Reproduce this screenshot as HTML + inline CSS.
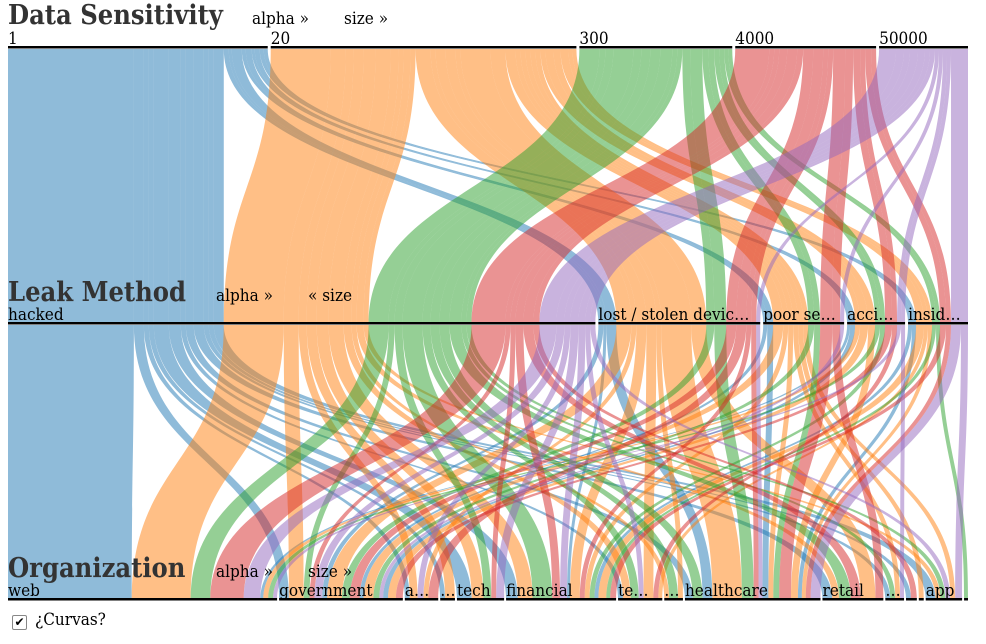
<!DOCTYPE html>
<html><head><meta charset="utf-8">
<style>
body{margin:0;background:#fff;width:986px;height:644px;overflow:hidden;font-family:"DejaVu Serif Condensed","DejaVu Serif","Liberation Serif",serif;}
svg text{font-family:"DejaVu Serif Condensed","DejaVu Serif","Liberation Serif",serif;fill:#000;}
.cb{position:absolute;left:12px;top:610px;font-size:17px;}
</style></head><body>
<svg id="chart" width="986" height="610" style="position:absolute;left:0;top:0"></svg>
<div class="cb"><span style="display:inline-block;width:13px;height:13px;border:1px solid #888;border-radius:2px;font-size:12px;line-height:13px;text-align:center;vertical-align:-1px;margin-right:8px">✔</span><span>¿Curvas?</span></div>
<script>
const sensCats=["1","20","300","4000","50000"];
const methodCats=["hacked","lost / stolen devic…","poor se…","acci…","insid…"];
const orgCats=["web","government","a…","…","tech","financial","te…","…","healthcare","retail","…","","","app",""];
// records: [sensitivity, method, organization, count]
const records=[
[0,0,0,126],[0,0,1,10],[0,0,2,5],[0,0,3,5],[0,0,4,15],[0,0,5,12],[0,0,6,5],[0,0,8,8],[0,0,9,10],[0,0,10,5],[0,0,11,5],[0,0,13,10],
[0,1,1,5],[0,1,5,3],[0,1,8,10],[0,2,1,4],[0,2,8,6],[0,3,0,3],[0,3,1,5],[0,4,5,4],[0,4,8,4],
[1,0,0,60],[1,0,1,15],[1,0,2,8],[1,0,3,10],[1,0,4,12],[1,0,5,15],[1,0,6,8],[1,0,7,5],[1,0,9,7],[1,0,13,5],
[1,1,1,15],[1,1,2,5],[1,1,5,10],[1,1,6,10],[1,1,7,5],[1,1,8,30],[1,1,9,15],[1,2,1,10],[1,2,5,5],[1,2,8,5],[1,2,10,5],[1,2,13,5],[1,2,12,5],
[1,3,0,5],[1,3,1,8],[1,3,8,7],[1,4,5,8],[1,4,6,4],[1,4,8,4],
[2,0,0,20],[2,0,1,6],[2,0,4,8],[2,0,5,20],[2,0,6,8],[2,0,7,9],[2,0,8,10],[2,0,9,12],[2,0,10,5],[2,0,13,5],
[2,1,1,8],[2,1,8,12],[2,2,1,6],[2,2,8,6],[2,3,0,5],[2,3,5,5],[2,4,5,4],[2,4,14,4],
[3,0,0,34],[3,0,1,5],[3,0,4,5],[3,0,5,8],[3,0,9,10],[3,0,11,6],[3,1,1,10],[3,1,2,10],[3,1,5,5],[3,1,8,5],[3,2,8,12],[3,2,9,8],
[3,3,1,7],[3,3,6,5],[3,4,5,6],[3,4,8,5],
[4,0,0,17],[4,0,1,8],[4,0,2,6],[4,0,4,8],[4,0,5,7],[4,0,6,5],[4,0,13,5],[4,1,8,4],[4,2,1,4],[4,3,0,4],[4,3,10,4],[4,4,8,10],[4,4,13,7]
];
const colors=["#1f77b4","#ff7f0e","#2ca02c","#d62728","#9467bd"];
const NS="http://www.w3.org/2000/svg";
const svg=document.getElementById("chart");
const X0=8,W=960,yTop=48,yMid=324,yBot=600;
function layout(idx,n,gap){
  const tot=new Array(n).fill(0);records.forEach(r=>tot[r[idx]]+=r[3]);
  const total=tot.reduce((a,b)=>a+b,0);const k=(W-gap*(n-1))/total;
  const start=[];let x=X0;for(let i=0;i<n;i++){start.push(x);x+=tot[i]*k+gap;}
  return {tot,k,start};
}
const LT=layout(0,5,3),LM=layout(1,5,3),LB=layout(2,15,2);
function place(L,idx,keyFn){
  const cur=L.start.slice();
  const ids=records.map((r,i)=>i).sort((a,b)=>{const ka=keyFn(records[a]),kb=keyFn(records[b]);for(let j=0;j<ka.length;j++){if(ka[j]!==kb[j])return ka[j]-kb[j];}return 0;});
  const pos=[];ids.forEach(i=>{const r=records[i];pos[i]=cur[r[idx]];cur[r[idx]]+=r[3]*L.k;});return pos;
}
const pT=place(LT,0,r=>[r[0],r[1],r[2]]);
const pM=place(LM,1,r=>[r[1],r[0],r[2]]);
const pB=place(LB,2,r=>[r[2],r[1],r[0]]);
function ribbon(x1,w1,y1,x2,w2,y2){const ym=(y1+y2)/2;
 return `M${x1},${y1}C${x1},${ym} ${x2},${ym} ${x2},${y2}L${x2+w2},${y2}C${x2+w2},${ym} ${x1+w1},${ym} ${x1+w1},${y1}Z`;}
const g=document.createElementNS(NS,"g");svg.appendChild(g);
records.forEach((r,i)=>{
  const p1=document.createElementNS(NS,"path");
  p1.setAttribute("d",ribbon(pT[i],r[3]*LT.k,yTop+1,pM[i],r[3]*LM.k,yMid-1));
  p1.setAttribute("fill",colors[r[0]]);p1.setAttribute("fill-opacity","0.5");
  
  
  g.appendChild(p1);
  const p2=document.createElementNS(NS,"path");
  p2.setAttribute("d",ribbon(pM[i],r[3]*LM.k,yMid+1,pB[i],r[3]*LB.k,yBot-1));
  p2.setAttribute("fill",colors[r[0]]);p2.setAttribute("fill-opacity","0.5");
  
  
  g.appendChild(p2);
});
function axis(L,cats,y,title,titleY,a1,a2,a1x,a2x){
  cats.forEach((c,i)=>{
    const ln=document.createElementNS(NS,"rect");
    ln.setAttribute("x",L.start[i]);ln.setAttribute("y",y-2);ln.setAttribute("width",L.tot[i]*L.k);ln.setAttribute("height",2.5);ln.setAttribute("fill","#000");
    
    
    svg.appendChild(ln);
    if(c){const t=document.createElementNS(NS,"text");t.setAttribute("x",L.start[i]);t.setAttribute("y",y-4);t.setAttribute("font-size","17");t.textContent=c;
    
    
    svg.appendChild(t);}
  });
  const t=document.createElementNS(NS,"text");t.setAttribute("x",8);t.setAttribute("y",titleY);t.setAttribute("font-size","27");t.setAttribute("font-weight","bold");t.setAttribute("style","fill:#333");t.textContent=title;
  
  
  svg.appendChild(t);
  [[a1,a1x],[a2,a2x]].forEach(([s,x])=>{const e=document.createElementNS(NS,"text");e.setAttribute("x",x);e.setAttribute("y",titleY);e.setAttribute("font-size","17");e.textContent=s;
  
  
  svg.appendChild(e);});
}
axis(LT,sensCats,yTop,"Data Sensitivity",24,"alpha »","size »",252,344);
axis(LM,methodCats,yMid,"Leak Method",301,"alpha »","« size",216,308);
axis(LB,orgCats,yBot,"Organization",577,"alpha »","size »",216,308);
</script>
</body></html>
